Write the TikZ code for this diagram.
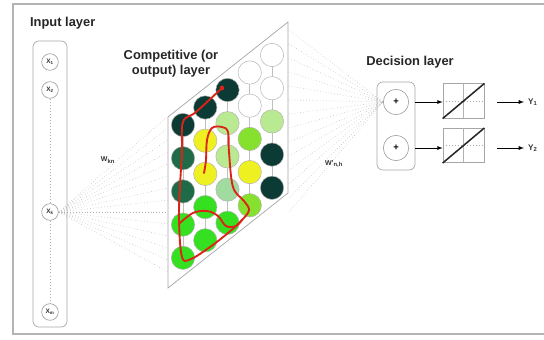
\documentclass[tikz,border=0pt]{standalone}
\usepackage{fontspec}
\setmainfont{Liberation Sans}
\usetikzlibrary{calc}

\definecolor{somdark}{HTML}{0C3B36}
\definecolor{somdkgreen}{HTML}{1F6B48}
\definecolor{somgreen}{HTML}{35E020}
\definecolor{somlime}{HTML}{86E12E}
\definecolor{somyellow}{HTML}{EEF022}
\definecolor{somlight}{HTML}{B9E991}
\definecolor{sompale}{HTML}{A2DBA0}
\definecolor{somred}{HTML}{DC2318}
\definecolor{frame}{HTML}{B4B4B4}

\tikzset{
	title/.style={font=\fontsize{11}{13}\selectfont\bfseries, text=black!85},
	xnode/.style={circle, draw=gray!70, line width=0.6pt, minimum size=0.5cm, inner sep=0pt, font=\fontsize{5.5}{6}\selectfont\bfseries, text=black!80},
	unit/.style={circle, draw=gray!60, line width=0.4pt, minimum size=0.7cm, inner sep=0pt},
	sumnode/.style={circle, draw=gray!70, line width=0.6pt, minimum size=0.76cm, inner sep=0pt, font=\fontsize{8}{9}\selectfont\bfseries},
	linbox/.style={draw=gray!70, line width=0.6pt, minimum width=1.23cm, minimum height=1.03cm, inner sep=0pt},
	fan/.style={gray!60, dotted, line width=0.45pt},
	wlabel/.style={font=\fontsize{6}{7}\selectfont\bfseries, text=black!80},
}

\begin{document}
\begin{tikzpicture}[x=0.03cm, y=-0.03cm]
		
		\useasboundingbox (0,0) rectangle (544,339);
		\draw [frame, line width=1.5pt] (544,4) -- (13,4) -- (13,334) -- (544,334);
		
		% input layer
		\node[title, anchor=west] (tin) at (26,23) {Input layer};
		\draw [gray!70, line width=0.6pt, rounded corners=5pt] (33,41) rectangle (67,327);
		\node[xnode] (x1) at (50,62) {X\textsubscript{1}};
		\node[xnode] (x2) at (50,90) {X\textsubscript{2}};
		\node[xnode] (xk) at (50,212) {X\textsubscript{k}};
		\node[xnode] (xm) at (50,312) {X\textsubscript{m}};
		\draw [gray!60, dotted, line width=0.6pt] (x2) -- (xk);
		\draw [gray!60, dotted, line width=0.6pt] (xk) -- (xm);
		
		% weights towards the map
		\foreach \y [count=\k] in {116,128,140,152,164,176,188,200,212,224,236,248,260,272}
			\coordinate (gl\k) at (168,\y);
		\foreach \k in {1,...,14}
			\draw [fan] (xk.east) -- (gl\k);
		\node[wlabel] (wkn) at (108,160) {W\textsubscript{kn}};
		
		% competitive layer
		\node[title, align=center] (tmap) at (171,64) {Competitive (or\\output) layer};
		\draw [draw=gray!70, fill=white, line width=0.6pt] (168,117) -- (288,22) -- (288,193) -- (168,288) -- cycle;
		\foreach \i in {0,...,4}
			\draw [gray!50, line width=0.6pt] ({183+22.25*\i},{125-17.5*\i}) -- ++(0,{4*33.2});
		\foreach \col [count=\i from 0] in {
				{somdark,somdkgreen,somdkgreen,somgreen,somgreen},
				{somdark,somyellow,somyellow,somgreen,somgreen},
				{somdark,somlight,somlight,sompale,somgreen},
				{white,white,somlime,somyellow,somlime},
				{white,white,somlight,somdark,somdark}}
			\foreach \c [count=\j from 0] in \col
				\node[unit, fill=\c] (u\i\j) at ({183+22.25*\i},{125-17.5*\i+33.2*\j}) {};
		
		% winning path
		\draw [line width=1.6pt, somred, line cap=round, line join=round]  plot[smooth, tension=.6] coordinates {(222,88) (196,112) (183,122) (182,153) (180,186) (179,220) (182,257) (191,259) (210,247) (228,233) (242,220) (249,210) (244,201) (233,187) (229,152) (228,132) (222,127) (212,128) (207,140) (206,160) (204,173)};
		\draw [line width=1.6pt, somred, line cap=round]  plot[smooth, tension=.6] coordinates {(180,223) (193,213) (207,211) (218,216) (226,226) (236,226) (242,220)};
		\fill [somred] (222,88) circle (2pt);
		
		% weights towards the decision layer
		\node[sumnode] (sum1) at (396,102) {+};
		\node[sumnode] (sum2) at (396,148) {+};
		\foreach \y [count=\k] in {30,44,58,72,86,100,114,128,142,156,170,184,198,212}
			\coordinate (gr\k) at (289,\y);
		\foreach \k in {1,...,14}
			\draw [fan] (gr\k) -- (sum1.west);
		\node[wlabel] (wnh) at (334,164) {W'\textsubscript{n,h}};
		
		% decision layer
		\node[title] (tdec) at (410,62) {Decision layer};
		\node[draw=gray!70, line width=0.6pt, rounded corners=5pt, minimum width=1.14cm, minimum height=2.64cm] (dec) at (396,126) {};
		\node[linbox] (lin1) at (463.5,101) {};
		\node[linbox] (lin2) at (463.5,145.5) {};
		\foreach \b in {lin1,lin2} {
			\draw [gray!60, line width=0.4pt] (\b.north) -- (\b.south);
			\draw [gray!70, dotted, line width=0.6pt] (\b.west) -- (\b.east);
			\draw [black!85, line width=1.3pt] (\b.south west) -- (\b.north east);
		}
		\draw [line width=0.6pt, -latex] (dec.east |- sum1) -- (lin1.west |- sum1);
		\draw [line width=0.6pt, -latex] (dec.east |- sum2) -- (lin2.west |- sum2);
		
		% outputs
		\node[wlabel, font=\fontsize{7}{8}\selectfont\bfseries, anchor=west] (y1) at (524,102) {Y\textsubscript{1}};
		\node[wlabel, font=\fontsize{7}{8}\selectfont\bfseries, anchor=west] (y2) at (524,148) {Y\textsubscript{2}};
		\draw [line width=0.6pt, -latex] ($(lin1.east |- y1)+(13,0)$) -- (y1.west);
		\draw [line width=0.6pt, -latex] ($(lin2.east |- y2)+(13,0)$) -- (y2.west);
		
	\end{tikzpicture}
\end{document}
